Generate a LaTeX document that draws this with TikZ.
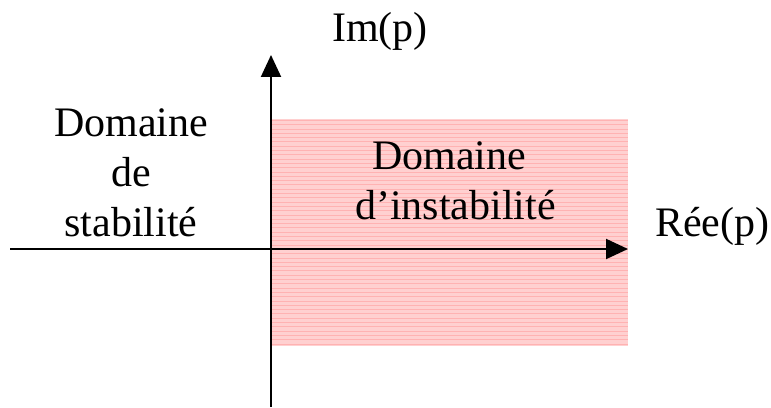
\documentclass[tikz,border=0pt]{standalone}
\usepackage{fontspec}
\setmainfont{Liberation Serif}
\usetikzlibrary{arrows.meta}
\definecolor{zonefill}{RGB}{255,208,208}
\definecolor{zoneline}{RGB}{255,178,178}
\tikzset{
  axis/.style={line width=2pt, -{Triangle[length=22pt,width=20pt]}},
  lbl/.style={inner sep=0pt, font=\fontsize{42}{50}\selectfont},
}
\begin{document}
\begin{tikzpicture}[x=1pt,y=1pt]
  \useasboundingbox (0,0) rectangle (771,407);
  % unstable half-plane
  \fill[zonefill] (272,61) rectangle (628,288);
  \foreach \k in {0,...,52} {
    \draw[zoneline, line width=0.8pt] (272,{63+4.3*\k}) -- (628,{63+4.3*\k});
  }
  % axes
  \coordinate (xs) at (10,158);
  \coordinate (xe) at (628,158);
  \coordinate (ys) at (271,0);
  \coordinate (ye) at (271,352);
  \draw[axis] (xs) -- (xe);
  \draw[axis] (ys) -- (ye);
  % labels
  \node[lbl, anchor=base] (im) at (380,365) {Im(p)};
  \node[lbl, anchor=base west] (re) at (655,170) {Rée(p)};
  \node[lbl, anchor=base, align=center] (stab) at (131,170) {Domaine\\de\\stabilité};
  \node[lbl, anchor=base west, align=left] (inst) at (355,187) {\hspace{17pt}Domaine\\d’instabilité};
\end{tikzpicture}
\end{document}
